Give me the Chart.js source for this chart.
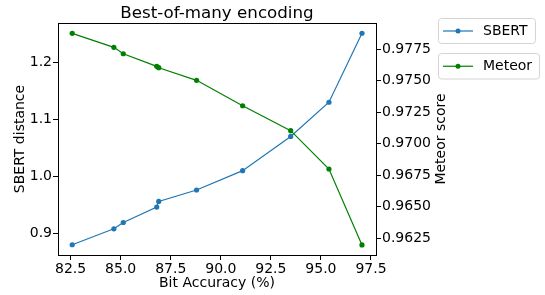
<!DOCTYPE html>
<html>
<head>
<meta charset="utf-8">
<script src="https://cdn.jsdelivr.net/npm/chart.js@4"></script>
<style>
    html, body { margin: 0; padding: 0; background: #fff; }
    #wrap { width: 545px; height: 295px; }
</style>
</head>
<body>
<div id="wrap"><canvas id="chart" width="545" height="295"></canvas></div>
<script>
// data
const bitAccuracy = [82.58, 84.66, 85.13, 86.80, 86.90, 88.79, 91.09, 93.49, 95.40, 97.05];
const sbertDistance = [0.880, 0.908, 0.919, 0.946, 0.956, 0.976, 1.010, 1.070, 1.130, 1.251];
const meteorScore = [0.97877, 0.97766, 0.97715, 0.97615, 0.97604, 0.97504, 0.97302, 0.97104, 0.96800, 0.96197];

const xTicks = [82.5, 85.0, 87.5, 90.0, 92.5, 95.0, 97.5];
const sbertTicks = [0.9, 1.0, 1.1, 1.2];
const meteorTicks = [0.9625, 0.9650, 0.9675, 0.9700, 0.9725, 0.9750, 0.9775];

const BLUE = '#1f77b4';
const GREEN = '#008000';
const FONT = "'DejaVu Sans', sans-serif";

Chart.defaults.font.family = FONT;
Chart.defaults.font.size = 14;
Chart.defaults.color = '#000';

// frame top, title, right axis label and boxed legend
const extrasPlugin = {
    id: 'extras',
    afterDraw(chart) {
        const ctx = chart.ctx;
        const a = chart.chartArea;
        ctx.save();

        ctx.strokeStyle = '#000';
        ctx.lineWidth = 1;
        ctx.beginPath();
        ctx.moveTo(a.left, a.top + 0.5);
        ctx.lineTo(a.right, a.top + 0.5);
        ctx.stroke();

        ctx.fillStyle = '#000';
        ctx.font = '16.7px ' + FONT;
        ctx.textAlign = 'center';
        ctx.textBaseline = 'alphabetic';
        ctx.fillText('Best-of-many encoding', (a.left + a.right) / 2, 18);

        ctx.save();
        ctx.translate(441, (a.top + a.bottom) / 2);
        ctx.rotate(-Math.PI / 2);
        ctx.font = '14px ' + FONT;
        ctx.textBaseline = 'middle';
        ctx.fillText('Meteor score', 0, 0);
        ctx.restore();

        const boxes = [
            { x: 438, y: 18.5, w: 97, h: 25 },
            { x: 438, y: 53.5, w: 101, h: 25.5 }
        ];
        chart.data.datasets.forEach((ds, i) => {
            const b = boxes[i];
            ctx.beginPath();
            ctx.roundRect(b.x + 0.5, b.y, b.w, b.h, 3);
            ctx.fillStyle = 'rgba(255,255,255,0.8)';
            ctx.fill();
            ctx.strokeStyle = '#d4d4d4';
            ctx.stroke();

            const cy = b.y + b.h / 2;
            ctx.strokeStyle = ds.borderColor;
            ctx.lineWidth = 1.2;
            ctx.beginPath();
            ctx.moveTo(443, cy);
            ctx.lineTo(473, cy);
            ctx.stroke();
            ctx.fillStyle = ds.borderColor;
            ctx.beginPath();
            ctx.arc(458, cy, 2.5, 0, Math.PI * 2);
            ctx.fill();

            ctx.fillStyle = '#000';
            ctx.font = '14px ' + FONT;
            ctx.textAlign = 'left';
            ctx.textBaseline = 'middle';
            ctx.fillText(ds.label, 483, cy);
            ctx.lineWidth = 1;
        });
        ctx.restore();
    }
};

const axisLine = { color: '#000', width: 1 };
const tickGrid = { drawOnChartArea: false, drawTicks: true, tickLength: 5, color: '#000' };

new Chart(document.getElementById('chart'), {
    type: 'line',
    data: {
        datasets: [{
            label: 'SBERT',
            data: bitAccuracy.map((x, i) => ({ x: x, y: sbertDistance[i] })),
            yAxisID: 'y',
            borderColor: BLUE,
            backgroundColor: BLUE,
            borderWidth: 1.2,
            pointRadius: 2.6,
            pointBorderWidth: 0,
            tension: 0,
            order: 1
        }, {
            label: 'Meteor',
            data: bitAccuracy.map((x, i) => ({ x: x, y: meteorScore[i] })),
            yAxisID: 'y1',
            borderColor: GREEN,
            backgroundColor: GREEN,
            borderWidth: 1.2,
            pointRadius: 2.6,
            pointBorderWidth: 0,
            tension: 0,
            order: 0
        }]
    },
    options: {
        responsive: false,
        animation: false,
        devicePixelRatio: 1,
        layout: { padding: { top: 23, right: 99, bottom: 0, left: 0 } },
        plugins: {
            legend: { display: false },
            title: { display: false },
            tooltip: { enabled: false }
        },
        scales: {
            x: {
                type: 'linear',
                position: 'bottom',
                min: 81.87,
                max: 97.75,
                afterBuildTicks: s => { s.ticks = xTicks.map(v => ({ value: v })); },
                afterFit: s => { s.height = 40; },
                ticks: {
                    callback: v => v.toFixed(1),
                    maxRotation: 0,
                    autoSkip: false,
                    padding: 1,
                    color: '#000'
                },
                grid: tickGrid,
                border: axisLine,
                title: {
                    display: true,
                    text: 'Bit Accuracy (%)',
                    color: '#000',
                    padding: { top: 0, bottom: 3.6 }
                }
            },
            y: {
                type: 'linear',
                position: 'left',
                min: 0.862,
                max: 1.269,
                afterBuildTicks: s => { s.ticks = sbertTicks.map(v => ({ value: v })); },
                afterFit: s => { s.width = 58; },
                ticks: {
                    callback: v => v.toFixed(1),
                    padding: 1,
                    color: '#000'
                },
                grid: tickGrid,
                border: axisLine,
                title: {
                    display: true,
                    text: 'SBERT distance',
                    color: '#000',
                    padding: { top: 11.6, bottom: 0 }
                }
            },
            y1: {
                type: 'linear',
                position: 'right',
                min: 0.96117,
                max: 0.97959,
                afterBuildTicks: s => { s.ticks = meteorTicks.map(v => ({ value: v })); },
                afterFit: s => { s.width = 70; },
                ticks: {
                    callback: v => v.toFixed(4),
                    padding: 1,
                    color: '#000'
                },
                grid: tickGrid,
                border: axisLine
            }
        }
    },
    plugins: [extrasPlugin]
});
</script>
</body>
</html>
